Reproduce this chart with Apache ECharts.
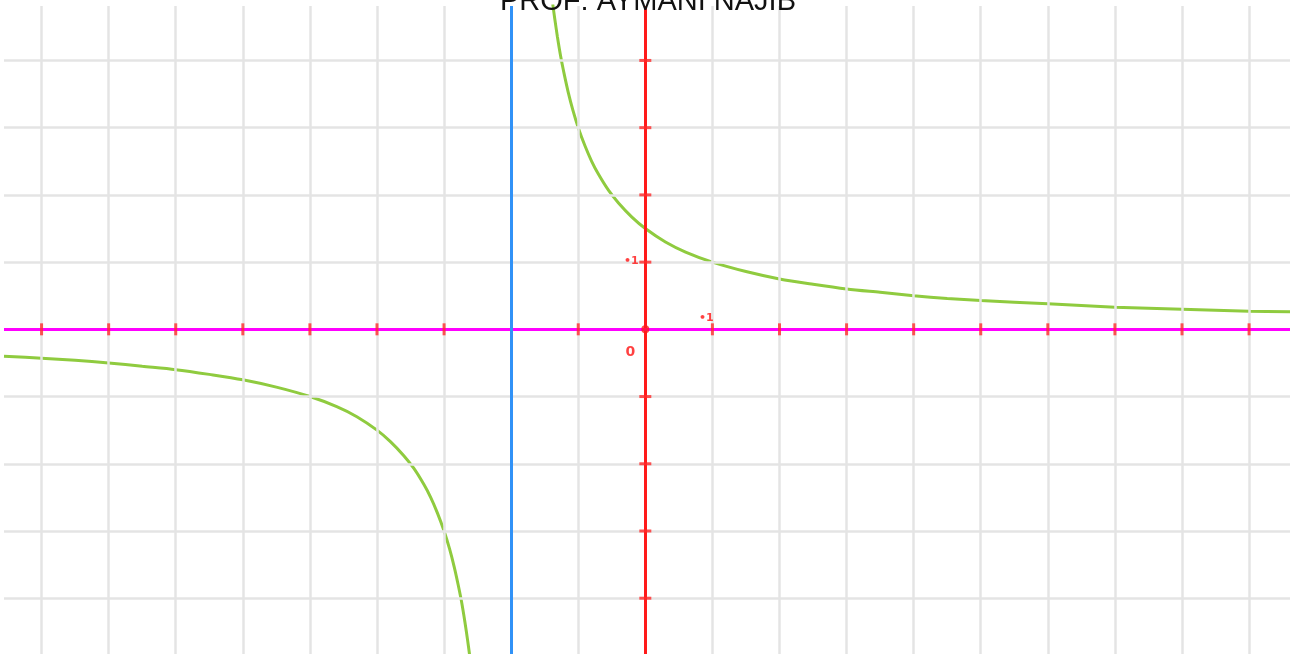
<!DOCTYPE html>
<html>
<head>
<meta charset="utf-8">
<script src="https://cdn.jsdelivr.net/npm/echarts@6/dist/echarts.min.js"></script>
<style>
  html, body { margin: 0; padding: 0; background: #fff; }
  #main { width: 1296px; height: 654px; }
</style>
</head>
<body>
<div id="main"></div>
<script>
// values
var titleText = 'PROF: AYMANI NAJIB';

var rightX = [-1.38, -1.35, -1.31, -1.26, -1.21, -1.15, -1.08, -1.0, -0.9, -0.8, -0.7, -0.55, -0.4, -0.2, 0, 0.3, 0.6, 1.0, 1.5, 2.0, 2.5, 3.0, 3.5, 4.0, 4.5, 5.0, 6.0, 7.0, 8.0, 9.0, 9.61];
var rightY = [4.84, 4.62, 4.35, 4.05, 3.80, 3.53, 3.26, 3.0, 2.73, 2.5, 2.31, 2.07, 1.88, 1.67, 1.5, 1.30, 1.15, 1.0, 0.86, 0.75, 0.67, 0.6, 0.55, 0.5, 0.46, 0.43, 0.38, 0.33, 0.3, 0.27, 0.26];

var leftX = [-9.56, -9, -8.5, -8, -7.5, -7, -6.5, -6, -5.5, -5, -4.6, -4.3, -4, -3.8, -3.6, -3.45, -3.3, -3.2, -3.1, -3.0, -2.92, -2.85, -2.79, -2.74, -2.69, -2.65, -2.62];
var leftY = [-0.40, -0.43, -0.46, -0.5, -0.55, -0.6, -0.67, -0.75, -0.86, -1.0, -1.15, -1.30, -1.5, -1.67, -1.88, -2.07, -2.31, -2.5, -2.73, -3.0, -3.26, -3.53, -3.80, -4.05, -4.35, -4.62, -4.84];

var asymptoteX = -2;
var xGrid = [-9, -8, -7, -6, -5, -4, -3, -2, -1, 0, 1, 2, 3, 4, 5, 6, 7, 8, 9];
var yGrid = [-4, -3, -2, -1, 0, 1, 2, 3, 4];
var xTicks = [-9, -8, -7, -6, -5, -4, -3, -1, 1, 2, 3, 4, 5, 6, 7, 8, 9];
var yTicks = [-4, -3, -2, -1, 1, 2, 3, 4];

var xMin = -9.56, xMax = 9.61;
var yMin = -4.83, yMax = 4.81;

function pairs(xs, ys) {
    var out = [];
    for (var i = 0; i < xs.length; i++) out.push([xs[i], ys[i]]);
    return out;
}

var gridStyle = { color: '#e4e4e4', width: 2.5, type: 'solid' };

var myChart = echarts.init(document.getElementById('main'));

var option = {
    backgroundColor: '#fff',
    animation: false,
    title: {
        text: titleText,
        left: 'center',
        top: -13,
        padding: 0,
        textStyle: {
            fontFamily: 'Liberation Sans',
            fontSize: 29,
            fontWeight: 'normal',
            color: '#111'
        }
    },
    grid: { left: 4, right: 6, top: 6, bottom: 0 },
    xAxis: {
        type: 'value', min: xMin, max: xMax,
        axisLine: { show: false }, axisTick: { show: false },
        axisLabel: { show: false }, splitLine: { show: false }
    },
    yAxis: {
        type: 'value', min: yMin, max: yMax,
        axisLine: { show: false }, axisTick: { show: false },
        axisLabel: { show: false }, splitLine: { show: false }
    },
    series: [
        {
            name: 'grille',
            type: 'line',
            data: [],
            z: 1,
            markLine: {
                silent: true,
                symbol: ['none', 'none'],
                label: { show: false },
                lineStyle: gridStyle,
                data: xGrid.map(function (v) { return { xAxis: v }; })
                    .concat(yGrid.map(function (v) { return { yAxis: v }; }))
            }
        },
        {
            name: 'axes',
            type: 'line',
            data: [],
            z: 3,
            markLine: {
                silent: true,
                symbol: ['none', 'none'],
                label: { show: false },
                data: [
                    { xAxis: 0, lineStyle: { color: '#ff1a1a', width: 3, type: 'solid' } },
                    { yAxis: 0, lineStyle: { color: '#ff00ff', width: 3, type: 'solid' } },
                    { xAxis: asymptoteX, lineStyle: { color: '#3192f7', width: 3, type: 'solid' } }
                ]
            }
        },
        {
            name: 'f droite',
            type: 'line',
            data: pairs(rightX, rightY),
            smooth: 0.3,
            showSymbol: false,
            silent: true,
            z: 4,
            lineStyle: { color: '#8fcb3f', width: 3 }
        },
        {
            name: 'f gauche',
            type: 'line',
            data: pairs(leftX, leftY),
            smooth: 0.3,
            showSymbol: false,
            silent: true,
            z: 4,
            lineStyle: { color: '#8fcb3f', width: 3 }
        },
        {
            name: 'graduations x',
            type: 'scatter',
            data: xTicks.map(function (v) { return [v, 0]; }),
            symbol: 'rect',
            symbolSize: [3, 12],
            silent: true,
            z: 5,
            itemStyle: { color: '#ff2b2b' }
        },
        {
            name: 'graduations y',
            type: 'scatter',
            data: yTicks.map(function (v) { return [0, v]; }),
            symbol: 'rect',
            symbolSize: [12, 3],
            silent: true,
            z: 5,
            itemStyle: { color: '#ff2b2b' }
        },
        {
            name: 'origine',
            type: 'scatter',
            data: [[0, 0]],
            symbol: 'circle',
            symbolSize: 8,
            silent: true,
            z: 6,
            itemStyle: { color: '#ff1a1a' }
        },
        {
            name: 'etiquettes',
            type: 'scatter',
            symbolSize: 0,
            silent: true,
            z: 6,
            data: [
                { value: [0, 1], label: { formatter: '•1', offset: [-14, -1] } },
                { value: [1, 0], label: { formatter: '•1', offset: [-6, -11] } },
                { value: [0, 0], label: { formatter: '0', offset: [-15, 23], fontSize: 14 } }
            ],
            label: {
                show: true,
                position: 'inside',
                color: '#ff1111',
                fontFamily: 'DejaVu Sans',
                fontWeight: 'bold',
                fontSize: 11
            }
        }
    ]
};

myChart.setOption(option);
</script>
</body>
</html>
